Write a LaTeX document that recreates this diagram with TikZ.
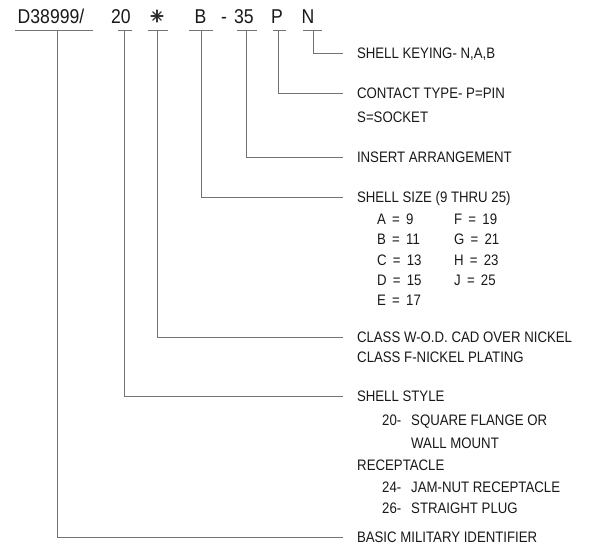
\documentclass[tikz,border=0pt]{standalone}
\usepackage{fontspec}
\setmainfont{Liberation Sans}
\newfontfamily\labfont[FakeStretch=0.87]{Liberation Sans}
\newfontfamily\topfont[FakeStretch=0.88]{Liberation Sans}
\begin{document}
\begin{tikzpicture}[x=1pt,y=-1pt,
  conn/.style={draw=black!55, line width=0.6pt},
  spoke/.style={draw=black!80, line width=1.1pt, line cap=round},
  code/.style={anchor=base, inner sep=0pt, text=black!90, font=\topfont\fontsize{20}{24}\selectfont},
  head/.style={anchor=west, inner sep=0pt, outer xsep=14pt, text height=11pt, text depth=0pt, text=black!90, font=\labfont\fontsize{15.2}{18}\selectfont},
  sub/.style={anchor=west, inner sep=0pt, text height=11pt, text depth=0pt, text=black!90, font=\labfont\fontsize{15.2}{18}\selectfont}]
\path[use as bounding box, fill=white] (0,0) rectangle (600,552);

% code row
\node[code] (cD) at (51,23) {D38999/};
\node[code] (c20) at (121,23) {20};
\coordinate (cS) at (157,16);
\foreach \a in {0,45,...,315} \draw[spoke] (cS) -- ++(\a:6);
\fill[black!85] (cS) circle (1.6);
\node[code] (cB) at (200.5,23) {B};
\node[code] (cDash) at (224,23) {-};
\node[code] (c35) at (244,23) {35};
\node[code] (cP) at (277,23) {P};
\node[code] (cN) at (308,23) {N};

% underlines
\draw[conn] (15,30) -- (93,30);
\draw[conn] (118,30) -- (132,30);
\draw[conn] (148,30) -- (168,30);
\draw[conn] (189,30) -- (213,30);
\draw[conn] (237,30) -- (257,30);
\draw[conn] (273,30) -- (286,30);
\draw[conn] (303,30) -- (322,30);

\coordinate (vD) at (57,30);
\coordinate (v20) at (124,30);
\coordinate (vS) at (157,30);
\coordinate (vB) at (201,30);
\coordinate (v35) at (246,30);
\coordinate (vP) at (278,30);
\coordinate (vN) at (313,30);

% headings
\node[head] (lN) at (343,53) {SHELL KEYING- N,A,B};
\node[head] (lP) at (343,93) {CONTACT TYPE- P=PIN};
\node[head] (l35) at (343,157) {INSERT ARRANGEMENT};
\node[head] (lB) at (343,197) {SHELL SIZE (9 THRU 25)};
\node[head] (lS) at (343,337) {CLASS W-O.D. CAD OVER NICKEL};
\node[head] (l20) at (343,396) {SHELL STYLE};
\node[head] (lD) at (343,537) {BASIC MILITARY IDENTIFIER};

% sub lines
\node[sub] (sP) at (357,117) {S=SOCKET};
\node[sub] (sA) at (377,219) {A \,=\, 9};
\node[sub] (sF) at (454,219) {F \,=\, 19};
\node[sub] (sB) at (377,239) {B \,=\, 11};
\node[sub] (sG) at (454,239) {G \,=\, 21};
\node[sub] (sC) at (377,260) {C \,=\, 13};
\node[sub] (sH) at (454,260) {H \,=\, 23};
\node[sub] (sDd) at (377,280) {D \,=\, 15};
\node[sub] (sJ) at (454,280) {J \,=\, 25};
\node[sub] (sE) at (377,300) {E \,=\, 17};
\node[sub] (sCF) at (357,357) {CLASS F-NICKEL PLATING};
\node[sub] (n20) at (382,420) {20-};
\node[sub] (t20) at (411,420) {SQUARE FLANGE OR};
\node[sub] (t20b) at (411,443) {WALL MOUNT};
\node[sub] (rec) at (357,465) {RECEPTACLE};
\node[sub] (n24) at (382,487) {24-};
\node[sub] (t24) at (411,487) {JAM-NUT RECEPTACLE};
\node[sub] (n26) at (382,508) {26-};
\node[sub] (t26) at (411,508) {STRAIGHT PLUG};

% connectors
\draw[conn] (vN) |- (lN.west);
\draw[conn] (vP) |- (lP.west);
\draw[conn] (v35) |- (l35.west);
\draw[conn] (vB) |- (lB.west);
\draw[conn] (vS) |- (lS.west);
\draw[conn] (v20) |- (l20.west);
\draw[conn] (vD) |- (lD.west);
\end{tikzpicture}
\end{document}
